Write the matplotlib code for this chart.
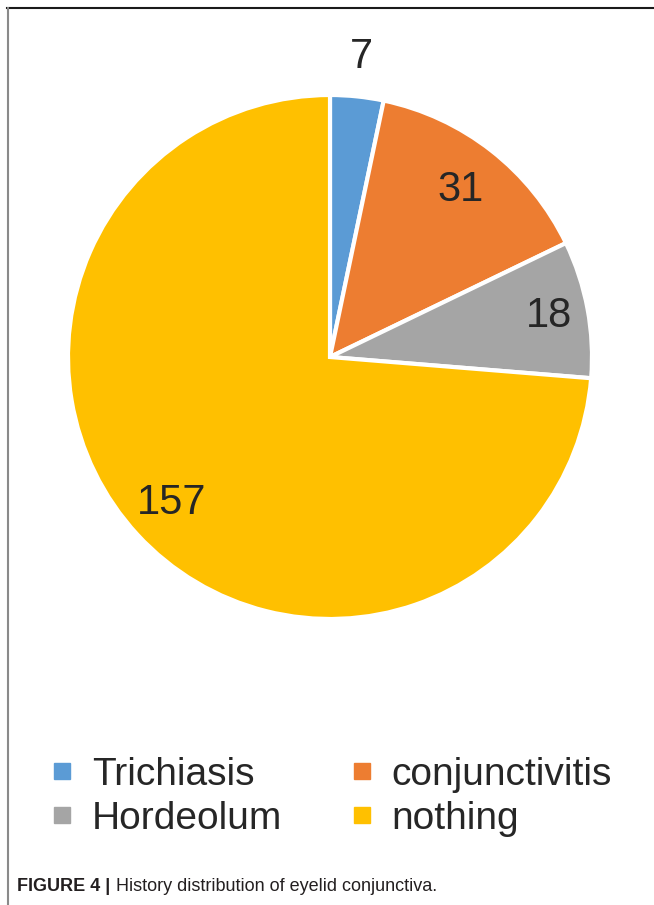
import numpy as np
import matplotlib.pyplot as plt
from matplotlib.lines import Line2D

plt.rcParams['font.family'] = ['Liberation Sans', 'DejaVu Sans']

# 病史分布
labels = ['Trichiasis', 'conjunctivitis', 'Hordeolum', 'nothing']
counts = [7, 31, 18, 157]
colors = ['#5B9BD5', '#ED7D31', '#A5A5A5', '#FFC000']
label_dist = [1.15, 0.81, 0.85, 0.82]

W, H = 654, 905
fig = plt.figure(figsize=(W / 100, H / 100), dpi=100)

# 饼图区域（像素换算成比例）
cx, cy, r = 330, 357, 262
ax = fig.add_axes([(cx - r) / W, (H - cy - r) / H, 2 * r / W, 2 * r / H])
wedges, _ = ax.pie(counts, colors=colors, startangle=90, counterclock=False,
                   radius=1, wedgeprops=dict(edgecolor='white', linewidth=3))
ax.set_xlim(-1, 1)
ax.set_ylim(-1, 1)
ax.set_aspect('equal')
ax.axis('off')

for w, n, d in zip(wedges, counts, label_dist):
    mid = np.deg2rad((w.theta1 + w.theta2) / 2)
    ax.text(d * np.cos(mid), d * np.sin(mid), str(n), ha='center', va='center',
            fontsize=30, color='#262626', clip_on=False)

# 图例：按行排列（两列）
handles = [Line2D([], [], marker='s', linestyle='none', markersize=11,
                  markerfacecolor=c, markeredgecolor=c) for c in colors]
order = [0, 2, 1, 3]
fig.legend([handles[i] for i in order], [labels[i] for i in order], ncol=2,
           frameon=False, fontsize=28,
           loc='upper left', bbox_to_anchor=(52 / W, 1 - 757 / H),
           borderpad=0, borderaxespad=0,
           handlelength=0.5, handletextpad=0.52, columnspacing=1.8,
           labelspacing=0.2, labelcolor='#262626')

# 边框
fig.add_artist(Line2D([7 / W, 653 / W], [1 - 8 / H, 1 - 8 / H], color='#1a1a1a', linewidth=1.5))
fig.add_artist(Line2D([8 / W, 8 / W], [0, 1 - 8 / H], color='#8a8a8a', linewidth=1.5))

# 图注
cap_font = ['Liberation Sans Narrow', 'Liberation Sans', 'DejaVu Sans']
t1 = fig.text(17 / W, 1 - 895 / H, 'FIGURE 4 |', fontsize=13, fontweight='bold',
              family=cap_font, color='#231f20', va='bottom')
ax.annotate('History distribution of eyelid conjunctiva.', xy=(1, 0), xycoords=t1,
            xytext=(4, 0), textcoords='offset points', va='bottom', ha='left',
            fontsize=13, family=cap_font, color='#231f20', annotation_clip=False)

plt.savefig('out.png', dpi=100)
